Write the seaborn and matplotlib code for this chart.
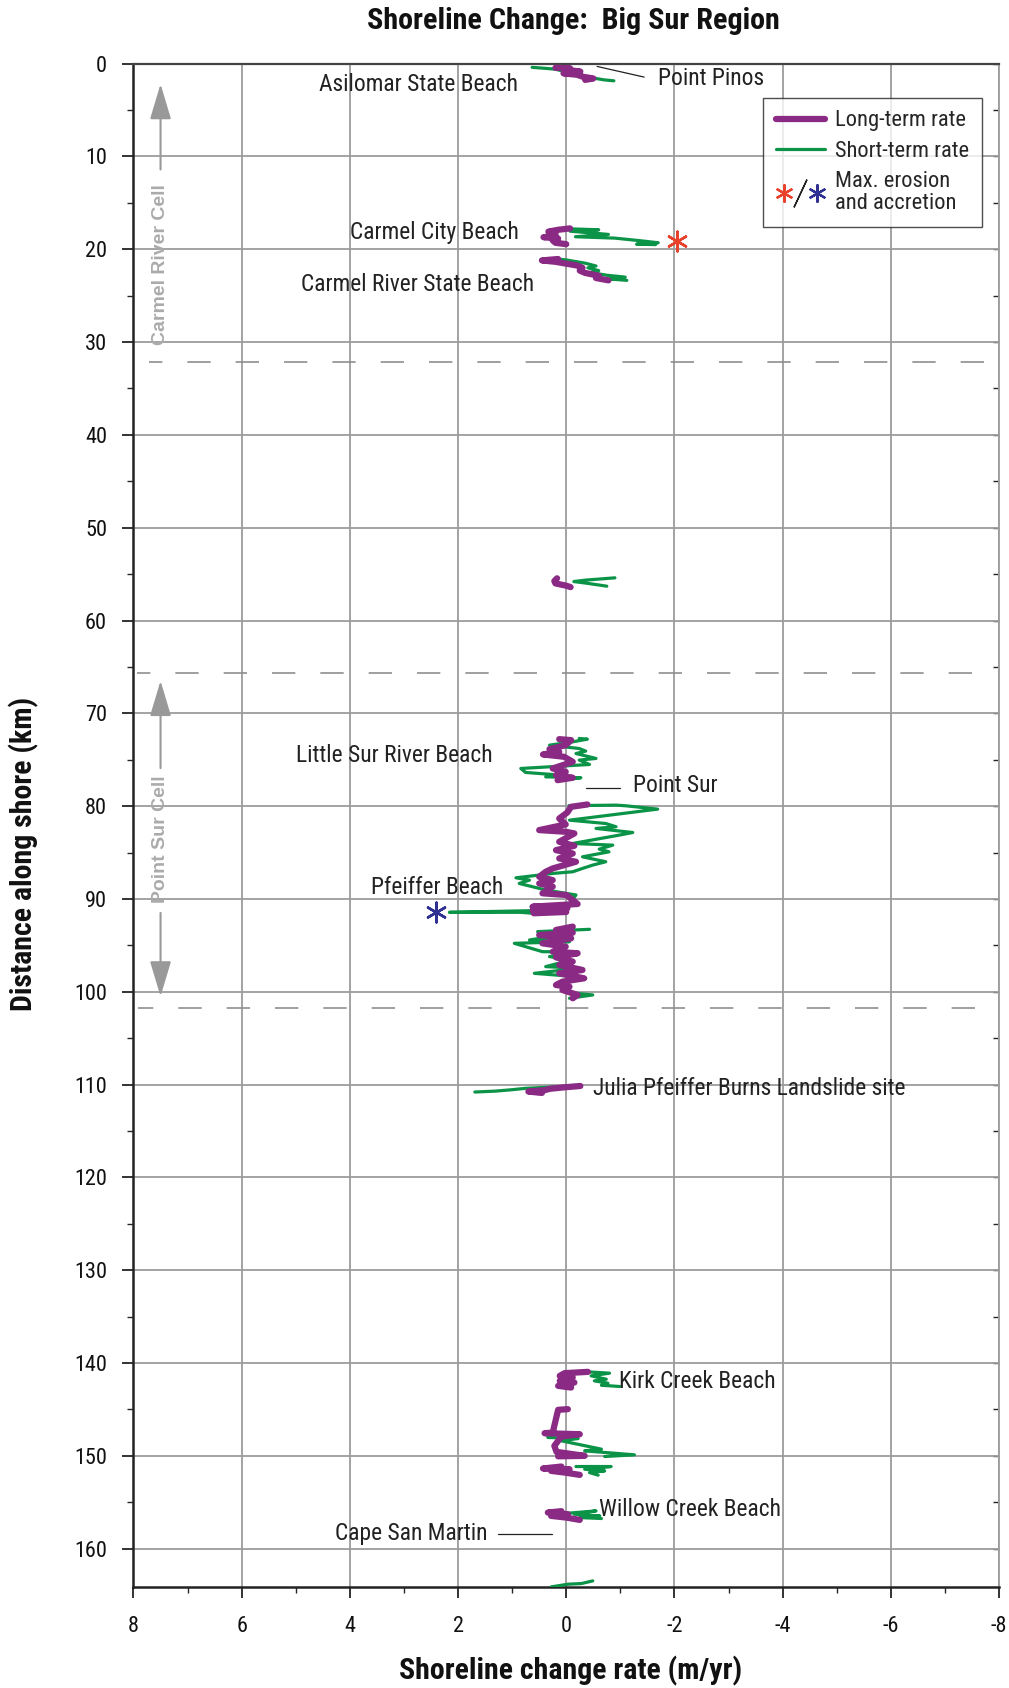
import numpy as np
import pandas as pd
import seaborn as sns
import matplotlib
matplotlib.use("Agg")
import matplotlib.pyplot as plt
import matplotlib.font_manager as fm
from matplotlib.lines import Line2D
from matplotlib.legend_handler import HandlerTuple
from matplotlib.ticker import MultipleLocator

# ---------------- data (km along shore, rate m/yr) ----------------
# Long-term rate segments
lt_pinos_km   = [0.45, 0.5, 0.65, 0.85, 1.05, 1.2, 1.4, 1.6, 1.75]
lt_pinos_rate = [0.2, -0.07, 0.02, -0.26, 0.05, -0.2, -0.3, -0.5, -0.35]
lt_carmel_city_km   = [17.75, 17.9, 18.1, 18.3, 18.55, 18.7, 18.85, 19.05, 19.3, 19.45]
lt_carmel_city_rate = [-0.07, 0.15, 0.33, 0.2, 0.2, 0.42, 0.15, 0.25, 0.2, 0.0]
lt_carmel_river_km   = [21.05, 21.2, 21.35, 21.55, 21.75, 22.0, 22.3, 22.55, 22.85, 23.1, 23.35]
lt_carmel_river_rate = [0.15, 0.45, 0.2, 0.0, -0.2, -0.3, -0.25, -0.35, -0.6, -0.55, -0.78]
lt_km56_km   = [55.45, 55.75, 56.0, 56.25, 56.4]
lt_km56_rate = [0.17, 0.22, 0.2, 0.0, -0.08]
lt_little_sur_km   = [72.78, 72.89, 73.43, 73.86, 74.15, 74.43, 74.68, 75.22, 75.94, 76.3, 76.66, 76.94, 77.2]
lt_little_sur_rate = [0.13, -0.09, 0.01, 0.31, 0.13, 0.43, 0.04, -0.12, 0.25, 0.01, 0.19, -0.12, 0.16]
lt_point_sur_km   = [79.82, 80.07, 80.68, 81.33, 81.97, 82.58, 82.76, 82.94, 83.84, 84.27, 84.74, 85.1,
                     85.63, 85.99, 86.71, 87.07, 87.61, 87.97, 88.33, 88.67, 89.39, 89.57, 90.54, 90.83,
                     91.0, 91.26, 91.4, 91.54]
lt_point_sur_rate = [-0.39, -0.09, -0.02, 0.13, 0.01, 0.5, 0.01, -0.15, 0.13, -0.15, 0.19, -0.12,
                     0.13, -0.18, 0.25, 0.38, 0.5, 0.25, 0.5, 0.25, 0.44, 0.0, -0.21, 0.62,
                     -0.02, 0.62, 0.0, 0.6]
lt_pfeiffer_s_km   = [92.98, 93.34, 93.63, 93.88, 94.24, 94.78, 95.14, 95.68, 95.85, 96.29, 96.75,
                      97.11, 97.65, 98.01, 98.55, 98.91, 99.27, 99.45, 99.81, 100.34, 100.7]
lt_pfeiffer_s_rate = [-0.12, 0.19, -0.12, 0.5, -0.09, 0.44, 0.01, 0.25, -0.21, 0.19, -0.12,
                      0.13, -0.3, 0.13, -0.33, 0.07, 0.19, -0.06, 0.07, -0.21, -0.12]
lt_julia_km   = [110.15, 110.3, 110.45, 110.6, 110.75, 110.9]
lt_julia_rate = [-0.26, 0.05, 0.3, 0.4, 0.7, 0.45]
lt_kirk_km   = [140.95, 141.09, 141.38, 141.56, 141.92, 142.1, 142.46, 142.64]
lt_kirk_rate = [-0.4, 0.03, 0.12, -0.12, 0.12, -0.15, 0.15, -0.09]
lt_km147_km   = [144.97, 145.04, 147.49, 147.56, 147.67, 147.92, 148.92, 149.57, 150.0, 150.05]
lt_km147_rate = [-0.03, 0.15, 0.25, 0.4, -0.25, 0.09, 0.22, 0.18, -0.34, 0.15]
lt_km151_km   = [151.15, 151.36, 151.44, 151.62, 151.8, 152.05]
lt_km151_rate = [0.09, 0.43, -0.06, 0.28, 0.03, -0.25]
lt_willow_km   = [155.96, 156.11, 156.29, 156.47, 156.65, 156.9]
lt_willow_rate = [0.09, 0.34, -0.03, 0.28, 0.0, -0.25]

# Short-term rate segments
st_pinos_km   = [0.4, 0.5, 0.6, 0.9, 1.2, 1.45, 1.6, 1.75, 1.85]
st_pinos_rate = [0.63, 0.4, 0.2, 0.0, -0.1, -0.4, -0.55, -0.7, -0.88]
st_carmel_city_km   = [17.8, 17.9, 18.05, 18.4, 18.65, 18.8, 19.1, 19.3, 19.45, 19.5]
st_carmel_city_rate = [-0.07, -0.6, -0.07, -0.78, -0.17, -0.9, -1.4, -1.7, -1.3, -1.65]
st_carmel_river_km   = [21.0, 21.15, 21.5, 21.8, 22.0, 22.3, 22.5, 22.8, 23.0, 23.2, 23.35]
st_carmel_river_rate = [0.27, 0.0, -0.35, -0.55, -0.4, -0.6, -0.45, -0.75, -1.09, -0.8, -1.12]
st_km56_km   = [55.4, 55.65, 55.8, 56.0, 56.3]
st_km56_rate = [-0.9, -0.35, -0.14, -0.4, -0.75]
st_little_sur_km   = [72.71, 72.78, 73.07, 73.43, 73.79, 74.07, 74.33, 74.86, 75.04, 75.51, 75.94,
                      76.37, 76.59, 76.84, 76.94, 77.2]
st_little_sur_rate = [-0.24, -0.39, -0.12, 0.31, -0.24, -0.36, -0.18, -0.55, -0.24, -0.43, 0.84,
                      0.75, 0.25, 0.38, -0.27, 0.07]
st_point_sur_km   = [79.95, 79.89, 79.96, 80.32, 81.51, 81.87, 82.22, 82.4, 82.84, 83.12, 84.02,
                     84.2, 84.63, 84.92, 85.46, 85.99, 86.35, 86.71, 87.07, 87.25, 87.72, 87.97,
                     88.33, 89.03, 89.57, 90.29, 90.47, 90.83, 91.26, 91.44, 91.44, 91.54, 91.54]
st_point_sur_rate = [-0.05, -0.92, -1.1, -1.69, -0.06, -0.73, -0.92, -0.55, -1.23, -0.98, -0.12,
                     -0.86, -0.61, -0.79, -0.3, -0.73, -0.49, -0.3, -0.12, 0.25, 0.93, 0.68,
                     0.87, 0.38, -0.18, -0.09, -0.18, 0.65, 0.62, 2.16, 0.84, 0.62, 0.0]
st_pfeiffer_s_km   = [93.27, 93.52, 93.7, 94.42, 94.6, 94.78, 95.68, 95.7, 96.21, 96.57, 97.29,
                      97.47, 98.01, 98.37, 98.55, 99.09, 99.99, 100.17, 100.34, 100.7]
st_pfeiffer_s_rate = [-0.43, 0.53, -0.09, 0.68, -0.06, 0.96, 0.44, -0.21, 0.31, -0.09, 0.38,
                      -0.24, 0.59, -0.18, -0.36, 0.16, 0.0, -0.18, -0.49, -0.06]
st_julia_km   = [110.1, 110.25, 110.4, 110.55, 110.7, 110.8]
st_julia_rate = [-0.26, 0.2, 0.75, 1.0, 1.3, 1.69]
st_kirk_km   = [140.95, 141.09, 141.38, 141.74, 141.92, 142.17, 142.39, 142.53]
st_kirk_rate = [-0.4, -0.8, -0.46, -0.74, -0.52, -0.77, -0.65, -0.99]
st_km147_km   = [147.7, 148.02, 148.13, 148.38, 149.28, 149.46, 149.89, 150.07]
st_km147_rate = [0.31, 0.34, -0.22, 0.09, -0.65, -0.34, -1.26, -0.71]
st_km151_km   = [151.15, 151.15, 151.44, 151.62, 151.8, 152.08]
st_km151_rate = [-0.18, -0.83, -0.34, -0.71, -0.43, -0.59]
st_willow_km   = [156.18, 155.93, 156.29, 156.47, 156.65, 156.75]
st_willow_rate = [-0.03, -0.55, -0.15, -0.62, -0.25, -0.65]
st_cape_km   = [164.12, 163.83, 163.76, 163.47]
st_cape_rate = [0.28, -0.03, -0.28, -0.49]

# Max erosion / accretion
max_erosion_km, max_erosion_rate = [19.1], [-2.05]
max_accretion_km, max_accretion_rate = [91.44], [2.41]

# Cell boundaries (dashed)
cell_boundary_km = [32.2, 65.7, 101.7]
cell_boundary_xmin = [7.72, 7.94, 7.92]
cell_boundary_xmax = [-7.72, -7.5, -7.55]

x_ticks = [8, 6, 4, 2, 0, -2, -4, -6, -8]
x_tick_labels = ["8", "6", "4", "2", "0", "-2", "-4", "-6", "-8"]
y_ticks = list(range(0, 161, 10))
y_tick_labels = [str(v) for v in y_ticks]

# place labels: (text, rate, km, ha)
place_labels = [
    ("Point Pinos", -1.70, 1.6, "left"),
    ("Asilomar State Beach", 0.89, 2.3, "right"),
    ("Carmel City Beach", 0.87, 18.2, "right"),
    ("Carmel River State Beach", 0.59, 23.8, "right"),
    ("Little Sur River Beach", 1.36, 74.5, "right"),
    ("Point Sur", -1.23, 77.8, "left"),
    ("Pfeiffer Beach", 1.16, 88.8, "right"),
    ("Julia Pfeiffer Burns Landslide site", -0.50, 110.4, "left"),
    ("Kirk Creek Beach", -0.98, 142.0, "left"),
    ("Willow Creek Beach", -0.60, 155.8, "left"),
    ("Cape San Martin", 1.45, 158.4, "right"),
]
# leader lines: (rate0, km0, rate1, km1)
leaders = [(-0.57, 0.3, -1.44, 1.45), (-0.36, 78.0, -1.0, 78.0), (1.26, 158.4, 0.26, 158.4)]

# cell labels: (text, km_center), arrows (tip_km, tail_km)
cell_labels = [("Carmel River Cell", 21.7), ("Point Sur Cell", 83.6)]
cell_arrows = [(2.2, 11.4), (66.5, 75.9), (100.5, 91.5)]
cell_x = 7.5

PURPLE = "#8a2a84"
GREEN = "#0b9448"
RED = "#e8412c"
BLUE = "#2e3192"
GRID = "#9c9c9c"
CELLGRAY = "#ababab"


def make_frame(segs, prefix):
    rows = []
    for i, (km, rate) in enumerate(segs):
        for k, r in zip(km, rate):
            rows.append((f"{prefix}{i}", k, r))
    return pd.DataFrame(rows, columns=["segment", "km", "rate"])


lt_df = make_frame([
    (lt_pinos_km, lt_pinos_rate), (lt_carmel_city_km, lt_carmel_city_rate),
    (lt_carmel_river_km, lt_carmel_river_rate), (lt_km56_km, lt_km56_rate),
    (lt_little_sur_km, lt_little_sur_rate), (lt_point_sur_km, lt_point_sur_rate),
    (lt_pfeiffer_s_km, lt_pfeiffer_s_rate), (lt_julia_km, lt_julia_rate),
    (lt_kirk_km, lt_kirk_rate), (lt_km147_km, lt_km147_rate),
    (lt_km151_km, lt_km151_rate), (lt_willow_km, lt_willow_rate)], "lt")
st_df = make_frame([
    (st_pinos_km, st_pinos_rate), (st_carmel_city_km, st_carmel_city_rate),
    (st_carmel_river_km, st_carmel_river_rate), (st_km56_km, st_km56_rate),
    (st_little_sur_km, st_little_sur_rate), (st_point_sur_km, st_point_sur_rate),
    (st_pfeiffer_s_km, st_pfeiffer_s_rate), (st_julia_km, st_julia_rate),
    (st_kirk_km, st_kirk_rate), (st_km147_km, st_km147_rate),
    (st_km151_km, st_km151_rate), (st_willow_km, st_willow_rate),
    (st_cape_km, st_cape_rate)], "st")


def pick_condensed():
    entries = fm.fontManager.ttflist
    names = {e.name for e in entries}
    for p in ["Liberation Sans Narrow", "Arial Narrow", "Roboto Condensed",
              "Open Sans Condensed", "Noto Sans Condensed", "DejaVu Sans Condensed",
              "Nimbus Sans Narrow"]:
        if p in names:
            return p, "normal"
    for want in ["condensed", "semi-condensed"]:
        for fam in ["Noto Sans", "Open Sans", "Roboto", "DejaVu Sans", "Lato", "Liberation Sans"]:
            for e in entries:
                if e.name == fam and str(e.stretch) == want:
                    return fam, want
    return "Liberation Sans", "normal"


COND_FAMILY, COND_STRETCH = pick_condensed()

# ---------------- figure ----------------
sns.set_theme(style="ticks")
plt.rcParams["font.family"] = [COND_FAMILY, "DejaVu Sans"]
plt.rcParams["font.stretch"] = COND_STRETCH
plt.rcParams["axes.unicode_minus"] = False

fig = plt.figure(figsize=(10.09, 16.88), dpi=100)
ax = fig.add_axes([0.1323, 0.0600, 0.8578, 0.9023])

ax.set_xlim(8, -8)
ax.set_ylim(164.1, 0)

ax.grid(True, which="major", color=GRID, lw=1.3)
ax.set_axisbelow(True)

for y, x0, x1 in zip(cell_boundary_km, cell_boundary_xmin, cell_boundary_xmax):
    ax.hlines(y, x1, x0, colors="#8f8f8f", lw=1.2, linestyles=(0, (14, 15)), zorder=2)

sns.lineplot(data=st_df, x="rate", y="km", units="segment", estimator=None, sort=False,
             orient="y", color=GREEN, lw=2.3, ax=ax, legend=False, zorder=3)
sns.lineplot(data=lt_df, x="rate", y="km", units="segment", estimator=None, sort=False,
             orient="y", color=PURPLE, lw=4.5, ax=ax, legend=False, zorder=4)

sns.scatterplot(x=max_erosion_rate, y=max_erosion_km, marker=(6, 2, 0), s=200, color=RED,
                linewidth=1.8, ax=ax, zorder=5, legend=False)
sns.scatterplot(x=max_accretion_rate, y=max_accretion_km, marker=(6, 2, 0), s=200, color=BLUE,
                linewidth=1.8, ax=ax, zorder=5, legend=False)

for text, xr, yk, ha in place_labels:
    ax.text(xr, yk, text, ha=ha, va="center", fontsize=16.9, color="#222222", zorder=6)
for r0, k0, r1, k1 in leaders:
    ax.plot([r0, r1], [k0, k1], color="#222222", lw=0.9, zorder=6)

for text, km in cell_labels:
    ax.text(cell_x, km, text, rotation=90, ha="center", va="center", fontsize=14,
            fontweight="bold", family=["Liberation Sans", "DejaVu Sans"], stretch="normal",
            color=CELLGRAY, zorder=6)
for tip, tail in cell_arrows:
    ax.annotate("", xy=(cell_x, tip), xytext=(cell_x, tail),
                arrowprops=dict(arrowstyle="-|>,head_length=1.1,head_width=0.33",
                                color="#999999", lw=1.5, mutation_scale=20,
                                shrinkA=0, shrinkB=0), zorder=6)

ax.set_xticks(x_ticks)
ax.set_xticklabels(x_tick_labels)
ax.set_yticks(y_ticks)
ax.set_yticklabels(y_tick_labels)
ax.xaxis.set_minor_locator(MultipleLocator(1))
ax.yaxis.set_minor_locator(MultipleLocator(5))
ax.tick_params(axis="x", which="major", bottom=True, length=8, width=1.2, pad=13,
               labelsize=16, colors="#111111")
ax.tick_params(axis="y", which="major", left=True, length=8, width=1.2, pad=11,
               labelsize=16, colors="#111111")
ax.tick_params(axis="x", which="minor", bottom=True, length=4, width=1.0)
ax.tick_params(axis="y", which="minor", left=True, length=4, width=1.0)

sec = ax.secondary_yaxis("right")
sec.set_yticks(y_ticks)
sec.yaxis.set_minor_locator(MultipleLocator(5))
sec.tick_params(which="both", direction="in", length=4, width=1.0, labelright=False)
sec.spines["right"].set_visible(False)

for s in ["left", "bottom"]:
    ax.spines[s].set_color("#222222")
    ax.spines[s].set_linewidth(1.8)
ax.spines["top"].set_color("#444444")
ax.spines["top"].set_linewidth(1.6)
ax.spines["right"].set_color(GRID)
ax.spines["right"].set_linewidth(1.3)

ax.set_xlabel("")
ax.set_ylabel("")

handles = [
    Line2D([], [], color=PURPLE, lw=4.5),
    Line2D([], [], color=GREEN, lw=2.3),
    (Line2D([], [], ls="none", marker=(6, 2, 0), ms=13, mew=1.6, color=RED),
     Line2D([], [], ls="none", marker=(2, 2, -25), ms=22, mew=1.0, color="#222222"),
     Line2D([], [], ls="none", marker=(6, 2, 0), ms=13, mew=1.6, color=BLUE)),
]
labels = ["Long-term rate", "Short-term rate", "Max. erosion\nand accretion"]
leg = ax.legend(handles, labels, loc="upper right", bbox_to_anchor=(0.980, 0.9774),
                borderaxespad=0, frameon=True, fancybox=False, edgecolor="#222222",
                fontsize=16.2, handlelength=2.2, handletextpad=0.45, labelspacing=0.42,
                borderpad=0.55, handler_map={tuple: HandlerTuple(ndivide=None, pad=0.0)})
for t in leg.get_texts():
    t.set_linespacing(1.05)
leg.get_frame().set_linewidth(1.0)
leg.set_zorder(10)

fig.text(573 / 1009, 1 - 21 / 1688, "Shoreline Change:  Big Sur Region", ha="center",
         va="center", fontsize=21.7, fontweight="bold", color="#111111")
fig.text(571 / 1009, 1 - 1671 / 1688, "Shoreline change rate (m/yr)", ha="center",
         va="center", fontsize=21.5, fontweight="bold", color="#111111")
fig.text(24 / 1009, 1 - 854 / 1688, "Distance along shore (km)", ha="center", va="center",
         rotation=90, fontsize=21.5, fontweight="bold", color="#111111")

fig.savefig("out.png", dpi=100)
